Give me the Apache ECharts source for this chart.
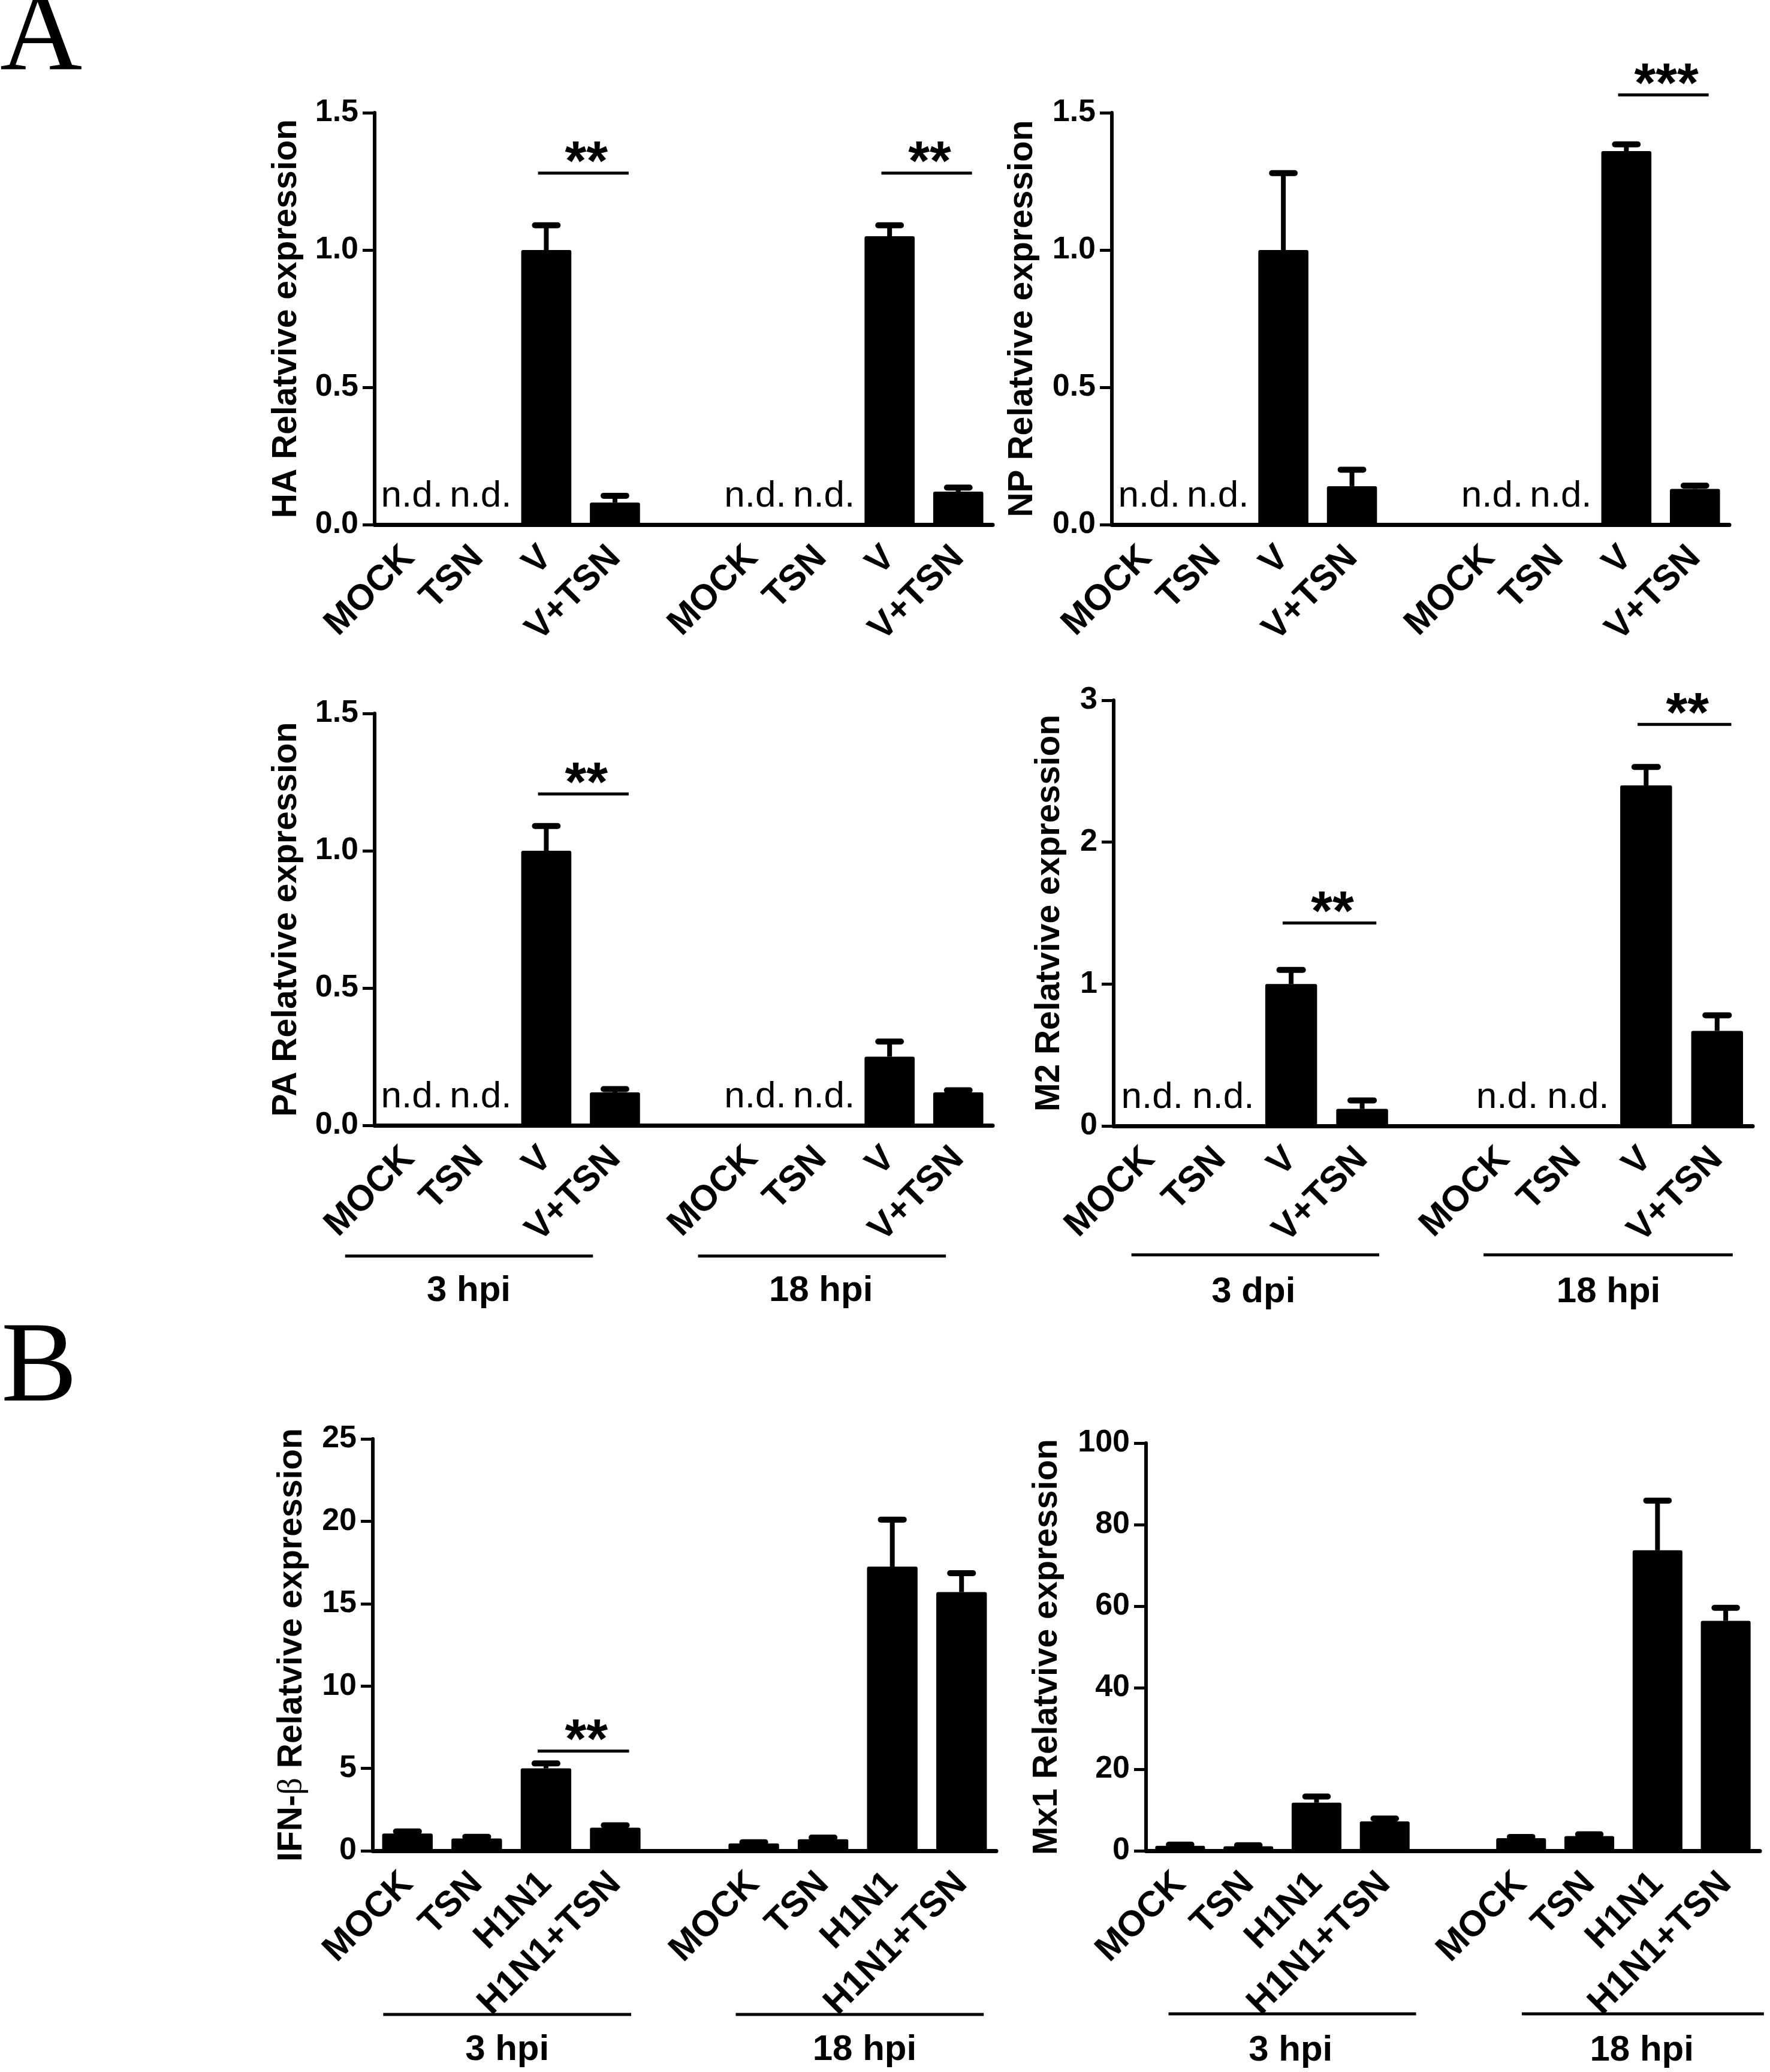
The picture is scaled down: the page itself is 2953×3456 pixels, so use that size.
<!DOCTYPE html>
<html>
<head>
<meta charset="utf-8">
<title>Relative expression</title>
<script src="https://cdn.jsdelivr.net/npm/echarts@6/dist/echarts.min.js"></script>
</head>
<body style="margin:0;background:#fff">
<div id="container" style="width:2953px;height:3456px"></div>
<script>
// categories (index 4 is the empty slot between the two time points)
var catsA = ['MOCK', 'TSN', 'V', 'V+TSN', '', 'MOCK', 'TSN', 'V', 'V+TSN'];
var catsB = ['MOCK', 'TSN', 'H1N1', 'H1N1+TSN', '', 'MOCK', 'TSN', 'H1N1', 'H1N1+TSN'];
var ndCats = [0, 1, 5, 6];
var groupsHpi = ['3 hpi', '18 hpi'];
var groupsM2 = ['3 dpi', '18 hpi'];

// y ticks
var ticks15 = [0, 0.5, 1.0, 1.5];
var ticks3 = [0, 1, 2, 3];
var ticks25 = [0, 5, 10, 15, 20, 25];
var ticks100 = [0, 20, 40, 60, 80, 100];

// means and error (upper SEM)
var haMean = [null, null, 1.00, 0.08, null, null, null, 1.05, 0.12];
var haErr = [null, null, 0.09, 0.025, null, null, null, 0.04, 0.015];
var npMean = [null, null, 1.00, 0.14, null, null, null, 1.36, 0.13];
var npErr = [null, null, 0.28, 0.06, null, null, null, 0.025, 0.012];
var paMean = [null, null, 1.00, 0.12, null, null, null, 0.25, 0.12];
var paErr = [null, null, 0.09, 0.012, null, null, null, 0.055, 0.008];
var m2Mean = [null, null, 1.00, 0.12, null, null, null, 2.40, 0.67];
var m2Err = [null, null, 0.10, 0.06, null, null, null, 0.13, 0.11];
var ifnMean = [1.05, 0.75, 5.0, 1.4, null, 0.45, 0.7, 17.25, 15.7];
var ifnErr = [0.12, 0.1, 0.3, 0.15, null, 0.07, 0.1, 2.85, 1.15];
var mx1Mean = [1.2, 1.1, 11.8, 7.2, null, 3.1, 3.6, 73.7, 56.4];
var mx1Err = [0.3, 0.25, 1.5, 0.7, null, 0.3, 0.45, 12.2, 3.2];

// significance: [from, to, y, stars]
var haSig = [[2, 3, 1.28, '**'], [7, 8, 1.28, '**']];
var npSig = [[7, 8, 1.565, '***']];
var paSig = [[2, 3, 1.207, '**']];
var m2Sig = [[2, 3, 1.43, '**'], [7, 8, 2.83, '**']];
var ifnSig = [[2, 3, 6.05, '**']];
var mx1Sig = [];

var FONT = 'Liberation Sans';

var panels = [
    { name: 'HA Relatvive expression', cats: catsA, mean: haMean, err: haErr, nd: ndCats, sig: haSig, ticks: ticks15, dec: 1,
      box: [625, 188, 1031, 687], nameGap: 118 },
    { name: 'NP Relatvive expression', cats: catsA, mean: npMean, err: npErr, nd: ndCats, sig: npSig, ticks: ticks15, dec: 1,
      box: [1855, 188, 1030, 687], nameGap: 120 },
    { name: 'PA Relatvive expression', cats: catsA, mean: paMean, err: paErr, nd: ndCats, sig: paSig, ticks: ticks15, dec: 1,
      box: [625, 1190, 1031, 687], nameGap: 118,
      groups: { labels: groupsHpi, spans: [[-0.93, 2.68, 0.87], [4.21, 7.82, 6.0]], lineDy: 218, textDy: 276 } },
    { name: 'M2 Relatvive expression', cats: catsA, mean: m2Mean, err: m2Err, nd: ndCats, sig: m2Sig, ticks: ticks3, dec: 0,
      box: [1858, 1168, 1066, 710], nameGap: 78,
      groups: { labels: groupsM2, spans: [[-0.25, 3.24, 1.47], [4.71, 8.22, 6.47]], lineDy: 215, textDy: 277 } },
    { name: 'IFN-{b|β} Relatvive expression', cats: catsB, mean: ifnMean, err: ifnErr, nd: [], sig: ifnSig, ticks: ticks25, dec: 0,
      box: [622, 2400, 1040, 687], nameGap: 106,
      groups: { labels: groupsHpi, spans: [[-0.35, 3.23, 1.44], [4.74, 8.32, 6.6]], lineDy: 273, textDy: 332 } },
    { name: 'Mx1 Relatvive expression', cats: catsB, mean: mx1Mean, err: mx1Err, nd: [], sig: mx1Sig, ticks: ticks100, dec: 0,
      box: [1912, 2407, 1024, 680], nameGap: 136,
      groups: { labels: groupsHpi, spans: [[-0.17, 3.46, 1.62], [5.01, 8.56, 6.77]], lineDy: 272, textDy: 333 } }
];

var grids = [], xAxes = [], yAxes = [], series = [];

panels.forEach(function (p, i) {
    grids.push({ left: p.box[0], top: p.box[1], width: p.box[2], height: p.box[3] });
    xAxes.push({
        type: 'category', gridIndex: i, data: p.cats,
        axisLine: { lineStyle: { color: '#000', width: 7 } },
        axisTick: { alignWithLabel: true, length: 20, lineStyle: { color: '#000', width: 5 } },
        axisLabel: { interval: 0, rotate: 45, margin: 46, padding: [54, 0, 0, 0], color: '#000',
            fontSize: 60, fontWeight: 'bold', fontFamily: FONT },
        splitLine: { show: false }
    });
    var t = p.ticks;
    yAxes.push({
        type: 'value', gridIndex: i, min: t[0], max: t[t.length - 1], interval: t[1] - t[0],
        axisLine: { show: true, lineStyle: { color: '#000', width: 6 } },
        axisTick: { show: true, length: 20, lineStyle: { color: '#000', width: 5 } },
        axisLabel: { margin: 27, color: '#000', fontSize: 52, fontWeight: 'bold', fontFamily: FONT,
            formatter: function (v) { return v.toFixed(p.dec); } },
        splitLine: { show: false },
        name: p.name, nameLocation: 'middle', nameGap: p.nameGap, nameRotate: 90,
        nameTextStyle: { color: '#000', fontSize: 57, fontWeight: 'bold', fontFamily: FONT,
            rich: { b: { color: '#000', fontSize: 57, fontWeight: 'normal', fontFamily: 'Liberation Serif' } } }
    });

    // bars
    series.push({
        type: 'bar', xAxisIndex: i, yAxisIndex: i, data: p.mean, barWidth: '73%',
        itemStyle: { color: '#000', borderRadius: 3 }, silent: true
    });

    // upper error bars
    var errData = [];
    p.mean.forEach(function (m, k) { if (m != null) errData.push([k, m, p.err[k]]); });
    series.push({
        type: 'custom', xAxisIndex: i, yAxisIndex: i, data: errData, silent: true,
        renderItem: function (params, api) {
            var k = api.value(0), m = api.value(1), e = api.value(2);
            var b = api.coord([k, m]);
            var tp = api.coord([k, m + e]);
            var half = api.size([1, 0])[0] * 0.165;
            return { type: 'group', children: [
                { type: 'line', shape: { x1: b[0], y1: b[1], x2: tp[0], y2: tp[1] }, style: { stroke: '#000', lineWidth: 8 } },
                { type: 'line', shape: { x1: tp[0] - half, y1: tp[1], x2: tp[0] + half, y2: tp[1] },
                  style: { stroke: '#000', lineWidth: 10, lineCap: 'round' } }
            ] };
        }
    });

    // not detected labels
    if (p.nd.length) {
        series.push({
            type: 'custom', xAxisIndex: i, yAxisIndex: i, silent: true,
            data: p.nd.map(function (k) { return [k, 0]; }),
            renderItem: function (params, api) {
                var c = api.coord([api.value(0), 0]);
                return { type: 'text', x: c[0] + 5, y: c[1] - 47,
                    style: { text: 'n.d.', fill: '#000', fontSize: 62, fontFamily: FONT, align: 'center', verticalAlign: 'middle' } };
            }
        });
    }

    // significance brackets
    if (p.sig.length) {
        series.push({
            type: 'custom', xAxisIndex: i, yAxisIndex: i, silent: true,
            data: p.sig.map(function (s) { return [s[0], s[2], s[1]]; }),
            renderItem: function (params, api) {
                var w = api.size([1, 0])[0];
                var a = api.coord([api.value(0), api.value(1)]);
                var c = api.coord([api.value(2), api.value(1)]);
                var x1 = a[0] - 0.12 * w, x2 = c[0] + 0.2 * w;
                return { type: 'group', children: [
                    { type: 'line', shape: { x1: x1, y1: a[1], x2: x2, y2: a[1] }, style: { stroke: '#000', lineWidth: 5 } },
                    { type: 'text', x: (x1 + x2) / 2 + 5, y: a[1] - 14,
                      style: { text: p.sig[params.dataIndex][3], fill: '#000', fontSize: 92, fontWeight: 'bold',
                               fontFamily: FONT, align: 'center', verticalAlign: 'middle' } }
                ] };
            }
        });
    }

    // time point underlines
    if (p.groups) {
        var g = p.groups;
        series.push({
            type: 'custom', xAxisIndex: i, yAxisIndex: i, silent: true, data: [[0, 0]],
            renderItem: function (params, api) {
                var o = api.coord([0, 0]);
                var w = api.size([1, 0])[0];
                var kids = [];
                g.spans.forEach(function (s, j) {
                    kids.push({ type: 'line', shape: { x1: o[0] + s[0] * w, y1: o[1] + g.lineDy, x2: o[0] + s[1] * w, y2: o[1] + g.lineDy },
                        style: { stroke: '#000', lineWidth: 5 } });
                    kids.push({ type: 'text', x: o[0] + s[2] * w, y: o[1] + g.textDy,
                        style: { text: g.labels[j], fill: '#000', fontSize: 60, fontWeight: 'bold', fontFamily: FONT,
                                 align: 'center', verticalAlign: 'middle' } });
                });
                return { type: 'group', children: kids };
            }
        });
    }
});

var option = {
    animation: false,
    backgroundColor: '#fff',
    textStyle: { fontFamily: FONT },
    grid: grids,
    xAxis: xAxes,
    yAxis: yAxes,
    series: series,
    graphic: [
        { type: 'text', x: 0, y: 66, style: { text: 'A', fill: '#000', fontSize: 190, fontFamily: 'Liberation Serif', align: 'left', verticalAlign: 'middle' } },
        { type: 'text', x: 2, y: 2286, style: { text: 'B', fill: '#000', fontSize: 190, fontFamily: 'Liberation Serif', align: 'left', verticalAlign: 'middle' } }
    ]
};

var myChart = echarts.init(document.getElementById('container'), null, { renderer: 'canvas' });
myChart.setOption(option);
</script>
</body>
</html>
